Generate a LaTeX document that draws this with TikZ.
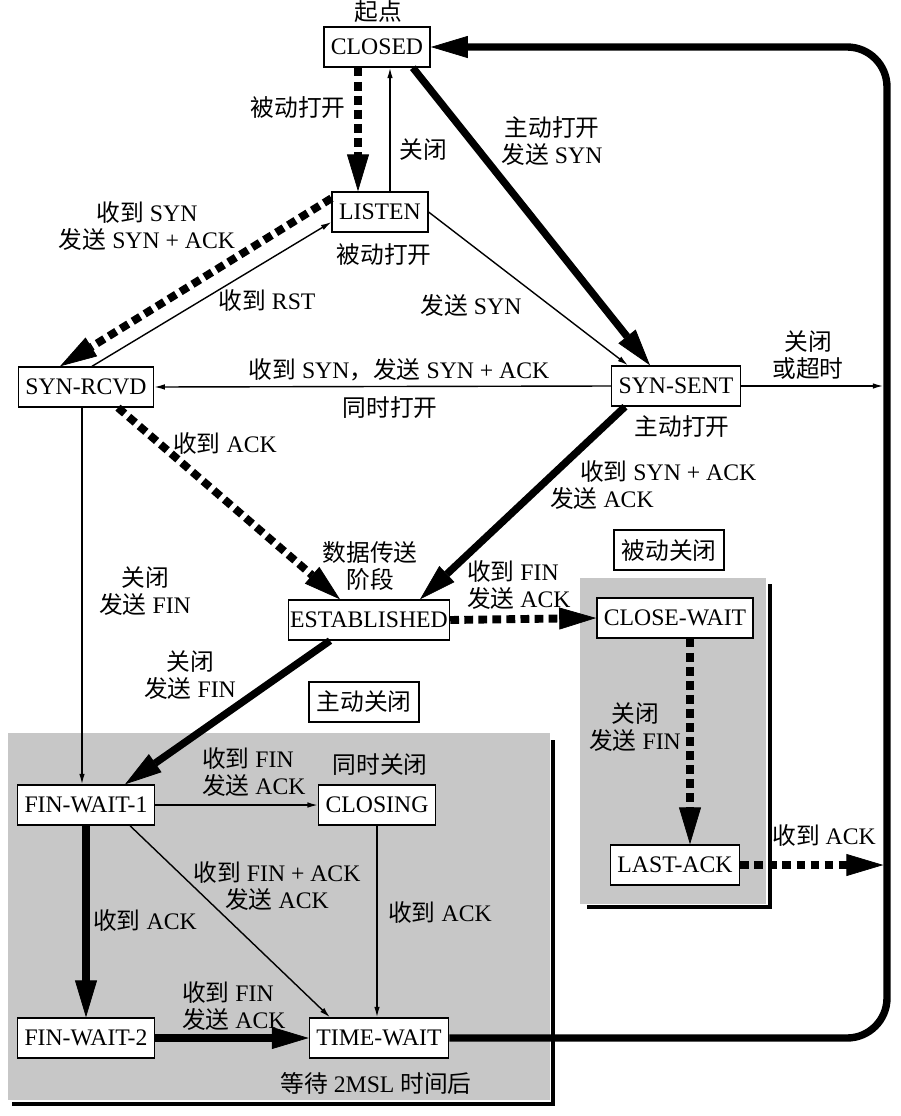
\documentclass[tikz,border=0pt]{standalone}
\usepackage{fontspec}
\setmainfont{Liberation Serif}
\newfontfamily\cjk{Noto Sans CJK SC}
\newcommand\zh[1]{{\cjk #1}}
\usetikzlibrary{arrows.meta,calc,positioning}

\tikzset{
  box/.style={draw,line width=.8pt,fill=white,inner xsep=4pt,minimum height=.8cm},
  tag/.style={draw,line width=.8pt,minimum width=2.2cm,minimum height=.8cm},
  lbl/.style={align=center,inner sep=1pt},
  fine/.style={line width=.8pt,-{Latex[length=6pt,width=3.2pt]}},
  heavy/.style={line width=4.2pt,-{Triangle[length=21pt,width=12.5pt,line width=.4pt]}},
  dots/.style={line width=4.5pt,dash pattern=on 5pt off 3pt,-{Triangle[length=21pt,width=12.5pt,line width=.4pt]}},
  zone/.style={fill=black!22},
  rim/.style={line width=1.8pt}
}

\begin{document}
\begin{tikzpicture}[x=.02cm,y=-.02cm,
                    every node/.style={font=\fontsize{13.5}{15.5}\selectfont}]
 \useasboundingbox (0,0) rectangle (900,1116);
 % shaded closing areas
 \fill[zone] (8,733) rectangle (550,1100);
 \draw[rim] (553,740) -- (553,1104) -- (12,1104);
 \fill[zone] (580,578) rectangle (766,904);
 \draw[rim] (770,584) -- (770,907) -- (587,907);
 \node[tag] (activetag) at (364,702) {\zh{主动关闭}};
 \node[tag] (passivetag) at (669,550) {\zh{被动关闭}};

 % states
 \node[box] (closed) at (377,47) {CLOSED};
 \node[box] (listen) at (380,212) {LISTEN};
 \node[box] (rcvd) at (86,387) {SYN-RCVD};
 \node[box] (sent) at (676,386) {SYN-SENT};
 \node[box,inner xsep=1pt] (estab) at (369,620) {ESTABLISHED};
 \node[box] (cwait) at (675,618) {CLOSE-WAIT};
 \node[box] (lack) at (675,865) {LAST-ACK};
 \node[box] (fw1) at (86,805) {FIN-WAIT-1};
 \node[box] (closing) at (377,805) {CLOSING};
 \node[box] (fw2) at (86,1038) {FIN-WAIT-2};
 \node[box] (tw) at (379,1038) {TIME-WAIT};
 \coordinate (rail) at (887,47);

 % state notes
 \node[lbl] (start) at (378,12) {\zh{起点}};
 \node[lbl] (listennote) at (384,255) {\zh{被动打开}};
 \node[lbl] (sentnote) at (682,427) {\zh{主动打开}};
 \node[lbl] (estabnote) at (370,566) {\zh{数据传送}\\\zh{阶段}};
 \node[lbl] (closingnote) at (380,765) {\zh{同时关闭}};
 \node[lbl] (twnote) at (376,1083) {\zh{等待} 2MSL \zh{时间后}};

 % transitions
 \draw[dots] ($(closed.south)+(-19,0)$) -- ($(listen.north)+(-22,0)$);
 \draw[fine] ($(listen.north)+(10,0)$) -- ($(closed.south)+(13,0)$);
 \draw[heavy] ($(closed.south east)+(-18,0)$) -- ($(sent.north)+(-26,0)$);
 \draw[dots] ($(listen.north west)+(0,7)$) -- ($(rcvd.north)+(-26,0)$);
 \draw[fine] ($(rcvd.north)+(6,0)$) -- ($(listen.west)+(0,10)$);
 \draw[fine] (listen.east) -- ($(sent.north west)+(17,0)$);
 \draw[fine] (sent.west) -- (rcvd.east);
 \draw[fine,shorten >=2.1pt] (sent.east) -- (sent.east -| rail);
 \draw[dots] ($(rcvd.south)+(32,0)$) -- ($(estab.north)+(-29,0)$);
 \draw[heavy] ($(sent.south)+(-51,0)$) -- ($(estab.north)+(51,0)$);
 \draw[dots] (estab.east) -- (cwait.west);
 \draw[heavy] ($(estab.south)+(-39,0)$) -- ($(fw1.north)+(39,0)$);
 \draw[fine] ($(rcvd.south)+(-4,0)$) -- ($(fw1.north)+(-4,0)$);
 \draw[dots] ($(cwait.south)+(15,0)$) -- ($(lack.north)+(15,0)$);
 \draw[dots,shorten >=2.1pt] (lack.east) -- (lack.east -| rail);
 \draw[fine] (fw1.east) -- (closing.west);
 \draw[fine] ($(fw1.south)+(44,0)$) -- ($(tw.north)+(-49,0)$);
 \draw[fine] (closing.south) -- (closing.south |- tw.north);
 \draw[heavy] (fw1.south) -- (fw2.north);
 \draw[heavy] (fw2.east) -- (tw.west);
 \draw[heavy,rounded corners=.8cm] (tw.east) -- (rail |- tw.east) -- (rail) -- (closed.east);

 % transition labels
 \node[lbl] (l1) at (298,108) {\zh{被动打开}};
 \node[lbl] (l2) at (423,150) {\zh{关闭}};
 \node[lbl] (l3) at (552,141) {\zh{主动打开}\\\zh{发送} SYN};
 \node[lbl] (l4) at (147,226) {\zh{收到} SYN\\\zh{发送} SYN + ACK};
 \node[lbl] (l5) at (267,300) {\zh{收到} RST};
 \node[lbl] (l6) at (471,305) {\zh{发送} SYN};
 \node[lbl] (l7) at (399,370) {\zh{收到} SYN\zh{，发送} SYN + ACK};
 \node[lbl] (l7b) at (390,408) {\zh{同时打开}};
 \node[lbl] (l8) at (808,355) {\zh{关闭}\\\zh{或超时}};
 \node[lbl] (l9) at (225,443) {\zh{收到} ACK};
 \node[lbl,align=left,anchor=west] (l10) at (578,485) {\zh{收到} SYN + ACK\\\hspace*{-17pt}\zh{发送} ACK};
 \node[lbl,align=left,anchor=west] (l11) at (465,585) {\zh{收到} FIN\\\zh{发送} ACK};
 \node[lbl] (l12) at (190,675) {\zh{关闭}\\\zh{发送} FIN};
 \node[lbl] (l13) at (145,591) {\zh{关闭}\\\zh{发送} FIN};
 \node[lbl] (l14) at (635,727) {\zh{关闭}\\\zh{发送} FIN};
 \node[lbl] (l15) at (824,835) {\zh{收到} ACK};
 \node[lbl,align=left,anchor=west] (l16) at (200,772) {\zh{收到} FIN\\\zh{发送} ACK};
 \node[lbl] (l17) at (277,886) {\zh{收到} FIN + ACK\\\zh{发送} ACK};
 \node[lbl] (l18) at (440,912) {\zh{收到} ACK};
 \node[lbl] (l19) at (145,920) {\zh{收到} ACK};
 \node[lbl,align=left,anchor=west] (l20) at (180,1006) {\zh{收到} FIN\\\zh{发送} ACK};
\end{tikzpicture}
\end{document}
